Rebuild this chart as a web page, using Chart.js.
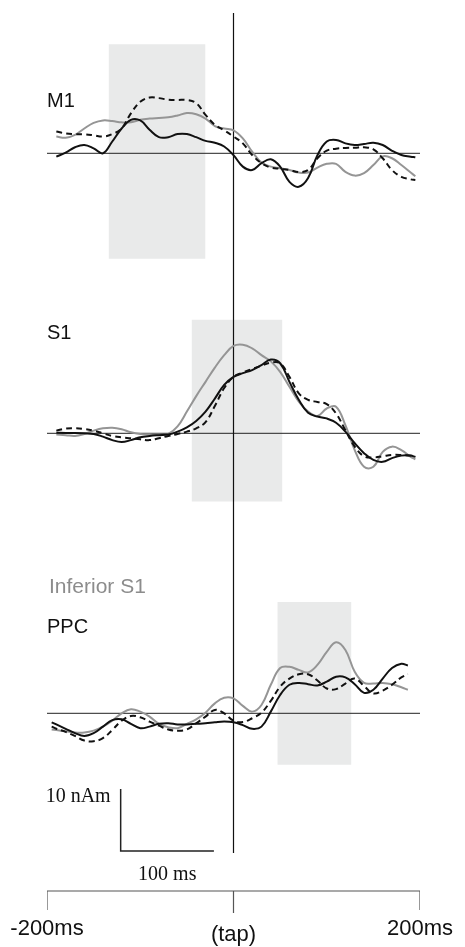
<!DOCTYPE html>
<html>
<head>
<meta charset="utf-8">
<script src="https://cdn.jsdelivr.net/npm/chart.js@4.4.1/dist/chart.umd.min.js"></script>
<style>
html, body { margin: 0; padding: 0; background: #fff; }
canvas { display: block; }
</style>
</head>
<body>
<canvas id="chart" width="465" height="947"></canvas>
<script>
// time in ms relative to the tap, values in nAm relative to each panel's baseline
const timeMs = [-190, -180, -170, -160, -150, -140, -130, -120, -110, -100,
    -90, -80, -70, -60, -50, -40, -30, -20, -10, 0,
    10, 20, 30, 40, 50, 60, 70, 80, 90, 100,
    110, 120, 130, 140, 150, 160, 170, 180, 190, 195];
const ppcTimeMs = [-195, -190, -180, -170, -160, -150, -140, -130, -120, -110,
    -100, -90, -80, -70, -60, -50, -40, -30, -20, -10,
    0, 10, 20, 30, 40, 50, 60, 70, 80, 90,
    100, 110, 120, 130, 140, 150, 160, 170, 180, 187];

const m1Black = [-0.54, 0.1, 0.97, 1.34, 0.8, 0, 1.9, 4.0, 5.4, 5.3,
    3.8, 2.6, 2.6, 3.1, 3.1, 2.6, 2.0, 1.7, 1.1, -0.3,
    -2.15, -2.7, -1.6, -0.97, -2.15, -4.6, -5.4, -4.0, -0.3, 1.9,
    2.15, 1.6, 1.34, 1.5, 1.7, 1.34, 0.4, -0.27, -0.54, -0.65];
const m1Grey = [2.7, 2.5, 2.96, 4.0, 4.9, 5.3, 5.2, 5.0, 5.0, 5.4,
    5.6, 5.7, 5.8, 6.1, 6.5, 6.3, 5.6, 4.4, 4.0, 3.7,
    2.4, 0.27, -1.5, -2.15, -2.4, -2.7, -3.1, -3.1, -2.3, -1.7,
    -1.7, -3.0, -3.6, -3.2, -1.9, -0.5, -0.8, -1.9, -3.1, -3.7];
const m1Dashed = [3.5, 3.2, 3.1, 3.06, 2.9, 2.7, 3.1, 4.0, 6.45, 8.3,
    9.0, 8.9, 8.65, 8.6, 8.6, 8.1, 6.2, 4.6, 3.7, 2.7,
    1.6, -0.27, -1.6, -2.3, -2.5, -2.7, -3.0, -2.7, -0.8, 0.43,
    0.75, 0.86, 0.9, 0.97, 0.65, -0.8, -2.7, -3.8, -4.2, -4.3];

const s1Black = [0.1, 0.05, 0.05, 0, -0.1, -0.54, -1.1, -1.4, -1.1, -0.65,
    -0.43, -0.3, -0.2, 0.27, 0.97, 2.0, 3.5, 5.6, 7.8, 9.1,
    9.7, 10.2, 11.0, 11.9, 11.3, 8.3, 5.4, 3.3, 2.7, 2.4,
    1.7, 0.27, -1.6, -3.2, -4.3, -4.6, -4.0, -3.6, -3.6, -3.8];
const s1Grey = [-0.2, -0.3, -0.43, -0.1, 0.43, 0.8, 0.9, 0.65, 0.16, -0.1,
    -0.16, -0.2, -0.1, 1.1, 3.5, 6.0, 8.3, 10.6, 12.6, 14.1,
    14.3, 13.7, 12.6, 11.6, 9.9, 7.5, 5.1, 3.5, 2.8, 4.0,
    4.3, 1.3, -2.7, -5.4, -5.4, -3.0, -2.15, -2.7, -3.8, -4.2];
const s1Dashed = [0.43, 0.75, 0.8, 0.7, 0.43, 0, -0.43, -0.65, -0.8, -0.97,
    -1.1, -0.8, -0.43, -0.1, 0.27, 0.8, 1.8, 4.4, 7.3, 9.1,
    9.8, 10.4, 10.9, 11.4, 11.3, 9.1, 6.45, 5.4, 5.05, 4.7,
    3.2, 0.5, -2.15, -3.7, -3.9, -3.7, -3.5, -3.5, -3.6, -3.8];

const ppcBlack = [-1.45, -1.8, -2.5, -3.2, -3.65, -3.2, -2.15, -1.1, -0.97, -1.7,
    -2.4, -2.15, -1.7, -1.6, -1.8, -1.8, -1.7, -1.6, -1.45, -1.34,
    -1.45, -1.9, -2.5, -2.15, 0.27, 2.96, 4.6, 4.9, 4.7, 4.5,
    5.1, 5.9, 5.8, 4.7, 3.3, 3.8, 5.6, 7.3, 8.0, 7.7];
const ppcGrey = [-2.6, -2.7, -2.9, -3.1, -3.1, -2.8, -2.15, -1.2, 0, 0.65,
    0.27, -0.54, -1.7, -2.25, -2.4, -1.7, -0.97, 0.1, 1.6, 2.5,
    2.4, 1.2, 0.27, 1.34, 4.6, 7.3, 7.5, 7.0, 6.6, 7.8,
    9.9, 11.45, 10.2, 6.7, 4.9, 4.8, 4.9, 4.7, 4.2, 3.8];
const ppcDashed = [-2.15, -2.5, -3.0, -3.65, -4.4, -4.5, -4.0, -2.7, -1.2, -0.43,
    -0.65, -1.34, -2.0, -2.6, -2.8, -2.6, -1.6, -0.54, 0.54, 0,
    -1.2, -1.4, -0.8, 0.1, 2.0, 4.3, 5.6, 6.3, 6.3, 5.3,
    4.0, 3.9, 4.8, 5.6, 4.4, 3.2, 3.66, 4.6, 5.8, 6.3];

// shaded analysis windows (ms)
const m1Window = [-134, -30];
const s1Window = [-45, 52.5];
const ppcWindow = [47, 126.5];

const panelNames = ["M1", "S1", "PPC"];
const subLabel = "Inferior S1";
const tickValues = [-200, 0, 200];
const tickLabels = ["-200ms", "(tap)", "200ms"];
const scaleBarMs = 100;
const scaleBarNAm = 10;

// layout: 6.2 px per nAm, panel baselines stacked down the page
const pxPerNAm = 6.2;
const yTop = 0;
const yBottom = -947 / pxPerNAm;
const offsets = [-153.3 / pxPerNAm, -433.3 / pxPerNAm, -713.3 / pxPerNAm];
const shadeSpan = [[17.6, -17.0], [18.3, -11.0], [17.95, -8.3]];
const axisY = -891 / pxPerNAm;

function trace(times, values, offset) {
    return times.map((t, i) => ({ x: t, y: values[i] + offset }));
}

const blackStyle = { borderColor: "#111", borderWidth: 2, order: 1 };
const dashStyle = { borderColor: "#111", borderWidth: 2, borderDash: [6, 4], order: 2 };
const greyStyle = { borderColor: "#959595", borderWidth: 2, order: 3 };
const thin = { borderColor: "#222", borderWidth: 1, tension: 0, order: 5 };

const panels = [
    { t: timeMs, black: m1Black, grey: m1Grey, dashed: m1Dashed, win: m1Window },
    { t: timeMs, black: s1Black, grey: s1Grey, dashed: s1Dashed, win: s1Window },
    { t: ppcTimeMs, black: ppcBlack, grey: ppcGrey, dashed: ppcDashed, win: ppcWindow }
];

const datasets = [];
panels.forEach((p, i) => {
    const off = offsets[i];
    datasets.push(Object.assign({ data: trace(p.t, p.grey, off), tension: 0.4 }, greyStyle));
    datasets.push(Object.assign({ data: trace(p.t, p.dashed, off), tension: 0.4 }, dashStyle));
    datasets.push(Object.assign({ data: trace(p.t, p.black, off), tension: 0.4 }, blackStyle));
    datasets.push(Object.assign({ data: [{ x: -200, y: off }, { x: 200, y: off }] }, thin));
    datasets.push({
        data: [{ x: p.win[0], y: off + shadeSpan[i][0] }, { x: p.win[1], y: off + shadeSpan[i][0] }],
        borderWidth: 0,
        backgroundColor: "#e9eaea",
        fill: { value: off + shadeSpan[i][1] },
        tension: 0,
        order: 10
    });
});

// tap line
datasets.push({ data: [{ x: 0, y: -13 / pxPerNAm }, { x: 0, y: -853 / pxPerNAm }],
    borderColor: "#111", borderWidth: 1.2, tension: 0, order: 4 });

// scale bar
const barT0 = -121;
const barY0 = -851 / pxPerNAm;
datasets.push({ data: [{ x: barT0, y: barY0 + scaleBarNAm }, { x: barT0, y: barY0 }, { x: barT0 + scaleBarMs, y: barY0 }],
    borderColor: "#222", borderWidth: 1.5, tension: 0, order: 4 });

// time axis
datasets.push({ data: [{ x: tickValues[0], y: -910 / pxPerNAm }, { x: tickValues[0], y: axisY },
    { x: tickValues[2], y: axisY }, { x: tickValues[2], y: -910 / pxPerNAm }],
    borderColor: "#555", borderWidth: 1.2, tension: 0, order: 4 });
datasets.push({ data: [{ x: tickValues[1], y: axisY }, { x: tickValues[1], y: -913 / pxPerNAm }],
    borderColor: "#555", borderWidth: 1.2, tension: 0, order: 4 });

const textPlugin = {
    id: "texts",
    afterDraw(chart) {
        const ctx = chart.ctx;
        const xs = chart.scales.x;
        const ys = chart.scales.y;
        const left = xs.getPixelForValue(-200);
        ctx.save();
        ctx.textBaseline = "alphabetic";
        ctx.textAlign = "left";
        ctx.fillStyle = "#111";
        ctx.font = "20px 'Liberation Sans', Arial, sans-serif";
        ctx.fillText(panelNames[0], left, ys.getPixelForValue(offsets[0]) - 46);
        ctx.fillText(panelNames[1], left, ys.getPixelForValue(offsets[1]) - 94);
        ctx.fillText(panelNames[2], left, ys.getPixelForValue(offsets[2]) - 80);
        ctx.fillStyle = "#8c8c8c";
        ctx.font = "21px 'Liberation Sans', Arial, sans-serif";
        ctx.fillText(subLabel, left + 2, ys.getPixelForValue(offsets[2]) - 120);

        ctx.fillStyle = "#111";
        ctx.font = "20px 'Liberation Serif', 'Times New Roman', serif";
        ctx.textAlign = "right";
        ctx.fillText(scaleBarNAm + " nAm", xs.getPixelForValue(barT0) - 10, ys.getPixelForValue(barY0 + scaleBarNAm) + 13);
        ctx.textAlign = "center";
        ctx.fillText(scaleBarMs + " ms", xs.getPixelForValue(barT0 + scaleBarMs / 2) + 0, ys.getPixelForValue(barY0) + 29);

        ctx.font = "22px 'Liberation Sans', Arial, sans-serif";
        tickValues.forEach((v, i) => {
            const y = i === 1 ? 941 : 935;
            ctx.fillText(tickLabels[i], xs.getPixelForValue(v), y);
        });
        ctx.restore();
    }
};

new Chart(document.getElementById("chart"), {
    type: "line",
    data: { datasets: datasets },
    options: {
        responsive: false,
        animation: false,
        parsing: true,
        elements: { point: { radius: 0 } },
        layout: { padding: { left: 47, right: 45, top: 0, bottom: 0 } },
        scales: {
            x: { type: "linear", min: -200, max: 200, display: false },
            y: { type: "linear", min: yBottom, max: yTop, display: false }
        },
        plugins: { legend: { display: false }, tooltip: { enabled: false } }
    },
    plugins: [textPlugin]
});
</script>
</body>
</html>
